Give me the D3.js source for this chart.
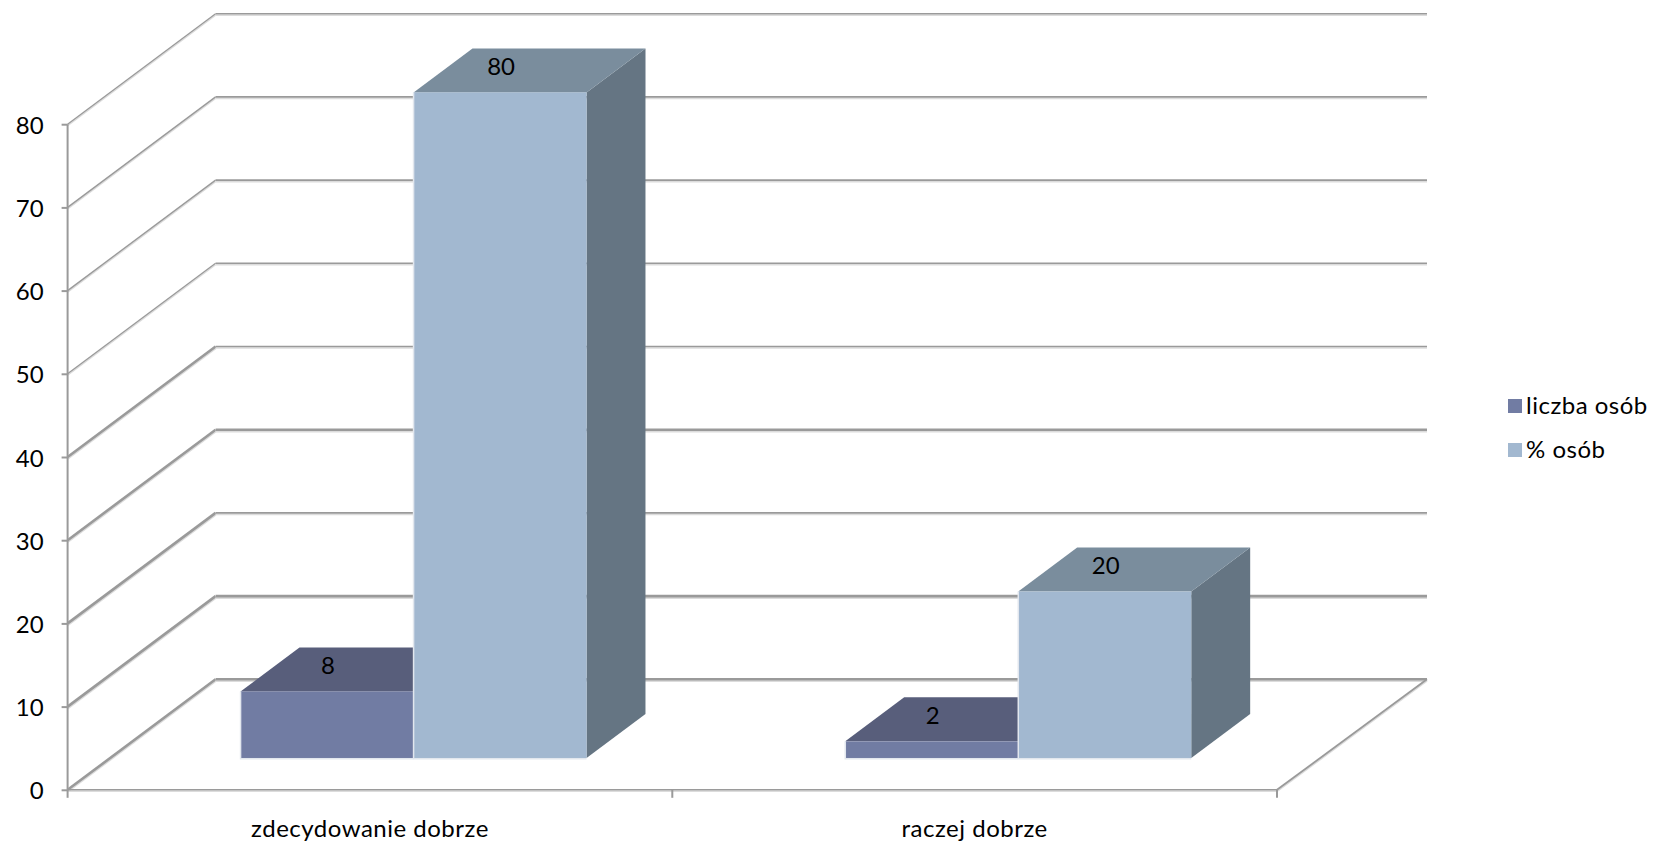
<!DOCTYPE html>
<html><head><meta charset="utf-8">
<script src="https://cdn.jsdelivr.net/npm/d3@7"></script>
<style>html,body{margin:0;padding:0;background:#fff;overflow:hidden}svg{display:block}text{font-family:Lato,sans-serif;fill:#000}</style>
</head><body><svg id="c" width="1657" height="843"></svg>
<script>
const categories = ["zdecydowanie dobrze", "raczej dobrze"];
const seriesNames = ["liczba osób", "% osób"];
const liczbaOsob = [8, 2];
const procentOsob = [80, 20];
const yTicks = [0, 10, 20, 30, 40, 50, 60, 70, 80];
const heavyWall = [0, 10, 30];
const heavySide = [0, 10, 20, 30, 40];
const colFront = ["#717ca3", "#a2b8d0"];
const colTop = ["#585e7b", "#7a8d9d"];
const colSide = ["#585e7b", "#657583"];

const svg = d3.select("#c");
const y = d3.scaleLinear().domain([0, 80]).range([789.8, 124.2]);
const x0 = d3.scaleBand().domain(categories).range([67.6, 1277]);
const x1 = d3.scaleBand().domain(seriesNames).range([0, x0.bandwidth()]).paddingInner(0).paddingOuter(0.7477);
const DX = 148, DY = -110.5;
const proj = (x, v, d) => [x + DX * d, y(v) + DY * d];
const planeF = 0.288, planeB = 0.686, barShift = 1;
const grid = "#9a9a9a", shadow = "#dcdcdc";
const line = d3.line();

function gridLine(pts, w) {
  svg.append("path").attr("d", line(pts.map(p => [p[0], p[1] + 1.5]))).attr("fill", "none").attr("stroke", shadow).attr("stroke-width", w);
  svg.append("path").attr("d", line(pts)).attr("fill", "none").attr("stroke", grid).attr("stroke-width", w);
}
// Wall gridlines
const xL = x0.range()[0], xR = x0.range()[1];
yTicks.forEach(v => {
  const a = proj(xL, v, 0), b = proj(xL, v, 1), c = [1427, b[1]];
  const sideW = heavySide.includes(v) ? 2.6 : 1.4;
  const wallW = heavyWall.includes(v) ? 2.6 : 1.6;
  gridLine([a, b], sideW);
  gridLine([b, c], wallW);
});
// Floor right edge + front edge
gridLine([proj(xR, 0, 0), [1427, y(0) + DY]], 1.8);
gridLine([proj(xL, 0, 0), proj(xR, 0, 0)], 1.6);

// Axes
const yAxis = d3.axisLeft(y).tickValues(yTicks).tickSize(6).tickPadding(18);
const ya = svg.append("g").attr("transform", `translate(${xL},0)`).call(yAxis);
ya.selectAll("path,line").attr("stroke", grid).attr("stroke-width", 2);
ya.select(".domain").attr("d", `M0,${y(80)}V${y(0)}`);
ya.selectAll("text").attr("font-size", 24).attr("font-family", "Lato").attr("dy", "0.38em");

const xa = svg.append("g").attr("transform", `translate(0,${y(0)})`)
  .call(d3.axisBottom(x0).tickSize(0).tickPadding(30));
xa.select(".domain").remove();
xa.selectAll("text").attr("font-size", 24).attr("font-family", "Lato").attr("letter-spacing", 0.5);
const edges = [xL, x0(categories[1]), xR];
svg.selectAll("line.xt").data(edges).join("line").attr("class", "xt")
  .attr("x1", d => d).attr("x2", d => d).attr("y1", y(0)).attr("y2", y(0) + 8)
  .attr("stroke", grid).attr("stroke-width", 2);

// 3-D bars
function bar(cat, name, value, si) {
  const xa = x0(cat) + x1(name) + barShift, xb = xa + x1.bandwidth();
  const g = svg.append("g");
  const poly = (pts, fill) => g.append("polygon").attr("points", pts.join(" ")).attr("fill", fill);
  poly([proj(xb, 0, planeF), proj(xb, value, planeF), proj(xb, value, planeB), proj(xb, 0, planeB)], colSide[si]);
  poly([proj(xa, value, planeF), proj(xb, value, planeF), proj(xb, value, planeB), proj(xa, value, planeB)], colTop[si]);
  const f0 = proj(xa, 0, planeF), f1 = proj(xb, value, planeF);
  g.append("rect").attr("x", f0[0]).attr("y", f1[1]).attr("width", f1[0] - f0[0]).attr("height", f0[1] - f1[1])
    .attr("fill", colFront[si]);
  g.append("path").attr("d", line([[f0[0], f1[1]], [f0[0], f0[1] + .8], [f1[0], f0[1] + .8]]))
    .attr("fill", "none").attr("stroke", "#e2e7ee").attr("stroke-width", 1.5);
  const lp = proj((xa + xb) / 2, value, planeF);
  return { x: lp[0] + 1, y: lp[1] - 26, value };
}
const labels = [];
categories.forEach((c, i) => {
  labels.push(bar(c, seriesNames[0], liczbaOsob[i], 0));
  labels.push(bar(c, seriesNames[1], procentOsob[i], 1));
});
svg.selectAll("text.lab").data(labels).join("text").attr("class", "lab")
  .attr("x", d => d.x).attr("y", d => d.y).attr("text-anchor", "middle").attr("dy", "0.36em")
  .attr("font-size", 24).text(d => d.value);

// Legend
const legY = d3.scalePoint().domain(seriesNames).range([406, 450]);
const leg = svg.selectAll("g.leg").data(seriesNames).join("g").attr("class", "leg")
  .attr("transform", d => `translate(1508,${legY(d)})`);
leg.append("rect").attr("y", -7).attr("width", 14).attr("height", 14).attr("fill", (d, i) => colFront[i]);
leg.append("text").attr("x", 18).attr("y", -1).attr("dy", "0.36em").attr("font-size", 24).attr("letter-spacing", 0.5).text(d => d);
</script></body></html>
